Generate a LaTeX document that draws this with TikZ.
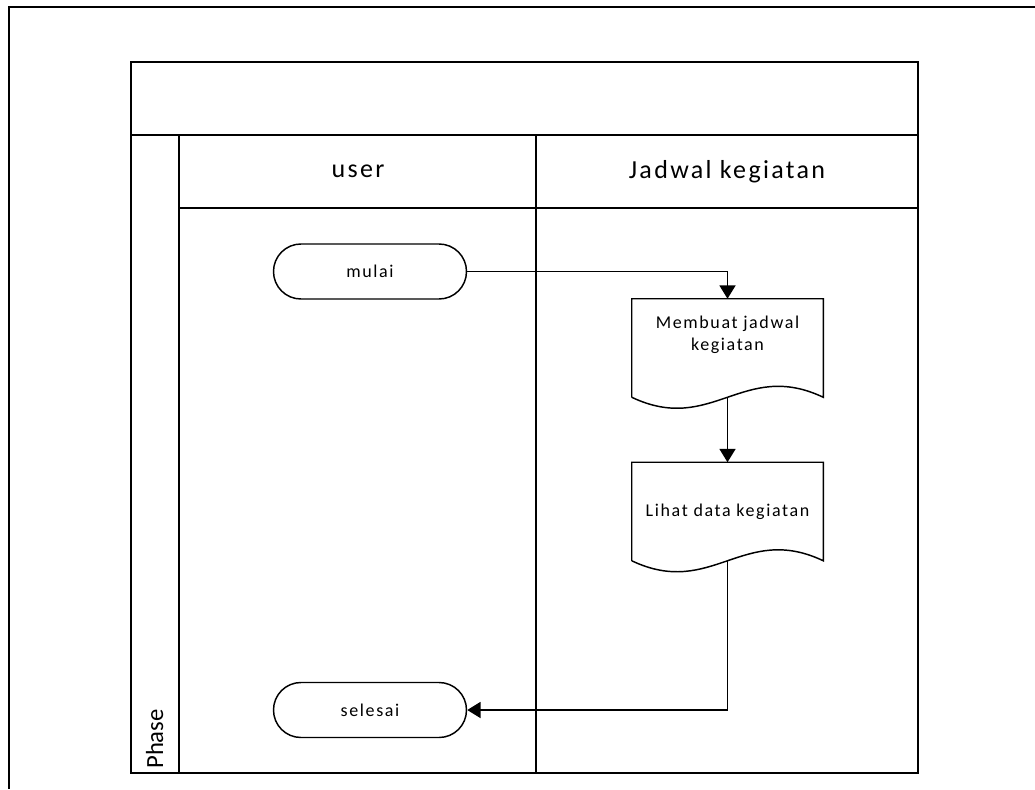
\documentclass[tikz,border=0pt]{standalone}
\usepackage{fontspec}
\setmainfont{Carlito}
\newfontfamily\spacedfont[LetterSpace=9]{Carlito}
\usetikzlibrary{arrows.meta,calc}

% bounded document symbol: straight top and sides, wavy bottom edge
\newcommand\docoutline[1]{%
  \draw[shapeline] (#1.south west) -- (#1.north west) -- (#1.north east) -- (#1.south east)
    .. controls ($(#1.south east)+(-80,-38)$) and ($(#1.south west)+(80,38)$) .. (#1.south west);}

\begin{document}
\begin{tikzpicture}[x=0.75pt,y=-0.75pt,
  frameline/.style={line width=1.7pt},
  poolline/.style={line width=1.3pt},
  shapeline/.style={line width=1.1pt},
  conn/.style={line width=1.2pt,-{Triangle[width=12pt,length=10pt]}},
  lanehead/.style={font=\spacedfont\fontsize{19.5}{23}\selectfont},
  term/.style={draw,line width=1.1pt,rectangle,rounded corners=20.6pt,
    minimum width=144.75pt,minimum height=41.25pt,inner sep=0pt,
    font=\spacedfont\fontsize{13.5}{16}\selectfont},
  docbox/.style={rectangle,minimum width=143.25pt,minimum height=73.5pt,inner sep=0pt,
    align=center,font=\spacedfont\fontsize{13.5}{16}\selectfont}]

\useasboundingbox (0,0) rectangle (1035,789);
\fill[white] (0,0) rectangle (1035,789);

% page frame (top and left edges)
\draw[frameline] (1035,7) -- (9,7) -- (9,789);

% pool with title band, phase column and two lanes
\draw[poolline] (131,62) rectangle (918,773);
\draw[poolline] (131,135) -- (918,135);
\draw[poolline] (179,135) -- (179,773);
\draw[poolline] (179,208) -- (918,208);
\draw[poolline] (536,135) -- (536,773);

\node[lanehead] (hUser) at (358,171.5) {user};
\node[lanehead] (hJadwal) at (727,171.5) {Jadwal kegiatan};
\node[rotate=90,anchor=base west,inner sep=0pt,font=\fontsize{18.5}{21}\selectfont] (phase) at (163,769) {Phase};

% flow
\node[term] (start) at (370,271.5) {mulai};
\node[docbox] (d1) at (727.5,348) {Membuat jadwal\\kegiatan\\[6pt]};
\docoutline{d1}
\node[docbox] (d2) at (727.5,511.5) {Lihat data kegiatan};
\docoutline{d2}
\node[term] (stop) at (370,710) {selesai};

\draw[conn] (start.east) -| (d1.north);
\draw[conn] (d1.south) -- (d2.north);
\draw[conn] (d2.south) |- (stop.east);
\end{tikzpicture}
\end{document}
